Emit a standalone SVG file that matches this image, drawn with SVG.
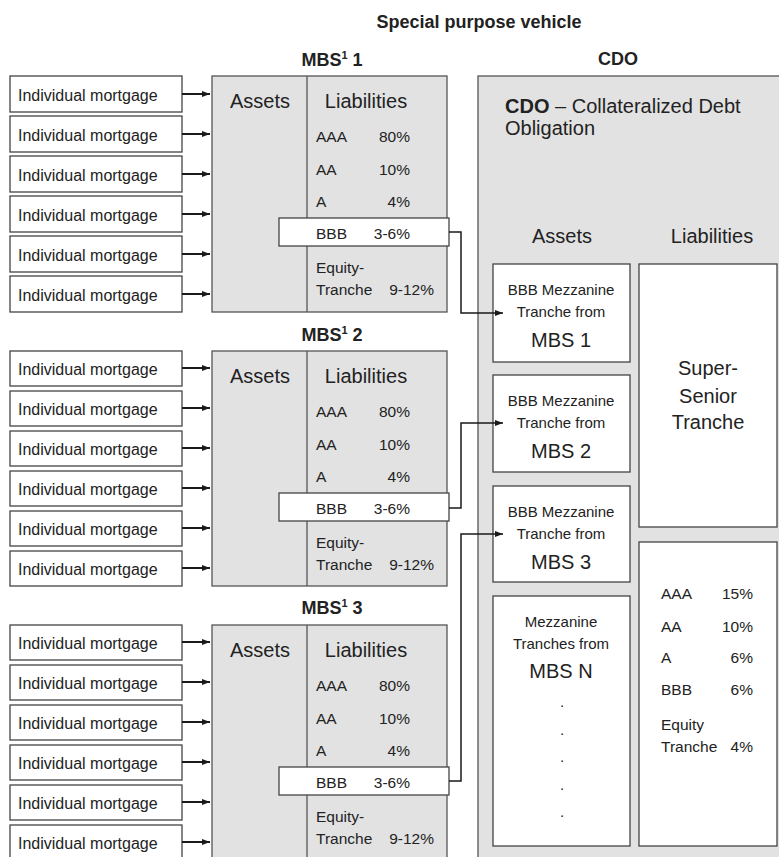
<svg xmlns="http://www.w3.org/2000/svg" width="779" height="857" viewBox="0 0 779 857">
<defs>
<marker id="ah" markerUnits="userSpaceOnUse" markerWidth="9" markerHeight="7" refX="8" refY="3.5" orient="auto">
<path d="M0,0.5 L8,3.5 L0,6.5 z" fill="#1a1a1a"/>
</marker>
<style>
text{font-family:"Liberation Sans",Arial,sans-serif;fill:#222}
.t{font-weight:bold;font-size:18px;text-anchor:middle}
.mb{fill:#fff;stroke:#444;stroke-width:1.3}
.mt{font-size:16px}
.box{fill:#e2e2e3;stroke:#555;stroke-width:1.3}
.wb{fill:#fff;stroke:#444;stroke-width:1.3}
.h{font-size:20px}
.r{font-size:15.5px}
.e{text-anchor:end}
.m{text-anchor:middle}
.s{font-size:15px;text-anchor:middle}
.a{stroke:#1a1a1a;stroke-width:2;fill:none;marker-end:url(#ah)}
.c{stroke:#1a1a1a;stroke-width:1.5;fill:none;marker-end:url(#ah)}
</style>
</defs>

<text class="t" x="479" y="28">Special purpose vehicle</text>

<g id="mbs1">
<text class="t" x="332" y="66">MBS<tspan font-size="11" dy="-7">1</tspan><tspan dy="7"> 1</tspan></text>
<rect class="box" x="212" y="76" width="235" height="236"/>
<line x1="307" y1="76" x2="307" y2="312" stroke="#555" stroke-width="1.3"/>
<text class="h" x="260" y="108" text-anchor="middle">Assets</text>
<text class="h" x="366" y="108" text-anchor="middle">Liabilities</text>
<text class="r" x="316" y="142">AAA</text><text class="r e" x="410" y="142">80%</text>
<text class="r" x="316" y="175">AA</text><text class="r e" x="410" y="175">10%</text>
<text class="r" x="316" y="207">A</text><text class="r e" x="410" y="207">4%</text>
<rect class="wb" x="279" y="218" width="170" height="28"/>
<text class="r" x="316" y="239">BBB</text><text class="r e" x="410" y="239">3-6%</text>
<text class="r" x="316" y="273">Equity-</text>
<text class="r" x="316" y="295">Tranche</text><text class="r e" x="434" y="295">9-12%</text>
</g>

<g id="mbs2">
<text class="t" x="332" y="341">MBS<tspan font-size="11" dy="-7">1</tspan><tspan dy="7"> 2</tspan></text>
<rect class="box" x="212" y="351" width="235" height="235"/>
<line x1="307" y1="351" x2="307" y2="586" stroke="#555" stroke-width="1.3"/>
<text class="h" x="260" y="383" text-anchor="middle">Assets</text>
<text class="h" x="366" y="383" text-anchor="middle">Liabilities</text>
<text class="r" x="316" y="417">AAA</text><text class="r e" x="410" y="417">80%</text>
<text class="r" x="316" y="450">AA</text><text class="r e" x="410" y="450">10%</text>
<text class="r" x="316" y="482">A</text><text class="r e" x="410" y="482">4%</text>
<rect class="wb" x="279" y="493" width="170" height="28"/>
<text class="r" x="316" y="514">BBB</text><text class="r e" x="410" y="514">3-6%</text>
<text class="r" x="316" y="548">Equity-</text>
<text class="r" x="316" y="570">Tranche</text><text class="r e" x="434" y="570">9-12%</text>
</g>

<g id="mbs3">
<text class="t" x="332" y="614">MBS<tspan font-size="11" dy="-7">1</tspan><tspan dy="7"> 3</tspan></text>
<rect class="box" x="212" y="625" width="235" height="240"/>
<line x1="307" y1="625" x2="307" y2="865" stroke="#555" stroke-width="1.3"/>
<text class="h" x="260" y="657" text-anchor="middle">Assets</text>
<text class="h" x="366" y="657" text-anchor="middle">Liabilities</text>
<text class="r" x="316" y="691">AAA</text><text class="r e" x="410" y="691">80%</text>
<text class="r" x="316" y="724">AA</text><text class="r e" x="410" y="724">10%</text>
<text class="r" x="316" y="756">A</text><text class="r e" x="410" y="756">4%</text>
<rect class="wb" x="279" y="767" width="170" height="28"/>
<text class="r" x="316" y="788">BBB</text><text class="r e" x="410" y="788">3-6%</text>
<text class="r" x="316" y="822">Equity-</text>
<text class="r" x="316" y="844">Tranche</text><text class="r e" x="434" y="844">9-12%</text>
</g>

<g id="mortgages1">
<g id="m1-1"><rect class="mb" x="10" y="76" width="172" height="36"/><text class="mt" x="18" y="101">Individual mortgage</text></g>
<g id="m1-2"><rect class="mb" x="10" y="116" width="172" height="36"/><text class="mt" x="18" y="141">Individual mortgage</text></g>
<g id="m1-3"><rect class="mb" x="10" y="156" width="172" height="36"/><text class="mt" x="18" y="181">Individual mortgage</text></g>
<g id="m1-4"><rect class="mb" x="10" y="196" width="172" height="36"/><text class="mt" x="18" y="221">Individual mortgage</text></g>
<g id="m1-5"><rect class="mb" x="10" y="236" width="172" height="36"/><text class="mt" x="18" y="261">Individual mortgage</text></g>
<g id="m1-6"><rect class="mb" x="10" y="276" width="172" height="36"/><text class="mt" x="18" y="301">Individual mortgage</text></g>
</g>
<g id="mortgages2">
<g id="m2-1"><rect class="mb" x="10" y="351" width="172" height="35"/><text class="mt" x="18" y="375">Individual mortgage</text></g>
<g id="m2-2"><rect class="mb" x="10" y="391" width="172" height="35"/><text class="mt" x="18" y="415">Individual mortgage</text></g>
<g id="m2-3"><rect class="mb" x="10" y="431" width="172" height="35"/><text class="mt" x="18" y="455">Individual mortgage</text></g>
<g id="m2-4"><rect class="mb" x="10" y="471" width="172" height="35"/><text class="mt" x="18" y="495">Individual mortgage</text></g>
<g id="m2-5"><rect class="mb" x="10" y="511" width="172" height="35"/><text class="mt" x="18" y="535">Individual mortgage</text></g>
<g id="m2-6"><rect class="mb" x="10" y="551" width="172" height="35"/><text class="mt" x="18" y="575">Individual mortgage</text></g>
</g>
<g id="mortgages3">
<g id="m3-1"><rect class="mb" x="10" y="625" width="172" height="35"/><text class="mt" x="18" y="649">Individual mortgage</text></g>
<g id="m3-2"><rect class="mb" x="10" y="665" width="172" height="35"/><text class="mt" x="18" y="689">Individual mortgage</text></g>
<g id="m3-3"><rect class="mb" x="10" y="705" width="172" height="35"/><text class="mt" x="18" y="729">Individual mortgage</text></g>
<g id="m3-4"><rect class="mb" x="10" y="745" width="172" height="35"/><text class="mt" x="18" y="769">Individual mortgage</text></g>
<g id="m3-5"><rect class="mb" x="10" y="785" width="172" height="35"/><text class="mt" x="18" y="809">Individual mortgage</text></g>
<g id="m3-6"><rect class="mb" x="10" y="825" width="172" height="36"/><text class="mt" x="18" y="849">Individual mortgage</text></g>
</g>

<g id="cdo">
<text class="t" x="618" y="65">CDO</text>
<rect class="box" x="478" y="76" width="320" height="800"/>
<text class="h" x="505" y="113"><tspan font-weight="bold">CDO</tspan> – Collateralized Debt</text>
<text class="h" x="505" y="135">Obligation</text>
<text class="h m" x="562" y="243">Assets</text>
<text class="h m" x="712" y="243">Liabilities</text>
</g>
<g id="cdo-a1"><rect class="wb" x="493" y="264" width="137" height="98"/>
<text class="s" x="561" y="295">BBB Mezzanine</text><text class="s" x="561" y="317">Tranche from</text><text class="h m" x="561" y="347">MBS 1</text></g>
<g id="cdo-a2"><rect class="wb" x="493" y="375" width="137" height="97"/>
<text class="s" x="561" y="406">BBB Mezzanine</text><text class="s" x="561" y="428">Tranche from</text><text class="h m" x="561" y="458">MBS 2</text></g>
<g id="cdo-a3"><rect class="wb" x="493" y="486" width="137" height="96"/>
<text class="s" x="561" y="517">BBB Mezzanine</text><text class="s" x="561" y="539">Tranche from</text><text class="h m" x="561" y="569">MBS 3</text></g>
<g id="cdo-a4"><rect class="wb" x="493" y="596" width="137" height="250"/>
<text class="s" x="561" y="627">Mezzanine</text><text class="s" x="561" y="649">Tranches from</text><text class="h m" x="561" y="678">MBS N</text>
<text class="s" x="562" y="707">.</text><text class="s" x="562" y="735">.</text><text class="s" x="562" y="762">.</text><text class="s" x="562" y="790">.</text><text class="s" x="562" y="817">.</text></g>
<g id="cdo-l1"><rect class="wb" x="639" y="264" width="138" height="263"/>
<text class="h m" x="708" y="375">Super-</text><text class="h m" x="708" y="403">Senior</text><text class="h m" x="708" y="429">Tranche</text></g>
<g id="cdo-l2"><rect class="wb" x="639" y="542" width="138" height="304"/>
<text class="r" x="661" y="599">AAA</text><text class="r e" x="753" y="599">15%</text>
<text class="r" x="661" y="632">AA</text><text class="r e" x="753" y="632">10%</text>
<text class="r" x="661" y="663">A</text><text class="r e" x="753" y="663">6%</text>
<text class="r" x="661" y="695">BBB</text><text class="r e" x="753" y="695">6%</text>
<text class="r" x="661" y="730">Equity</text>
<text class="r" x="661" y="752">Tranche</text><text class="r e" x="753" y="752">4%</text></g>

<g id="connectors">
<line class="a" x1="182" y1="94" x2="210" y2="94"/>
<line class="a" x1="182" y1="134" x2="210" y2="134"/>
<line class="a" x1="182" y1="174" x2="210" y2="174"/>
<line class="a" x1="182" y1="214" x2="210" y2="214"/>
<line class="a" x1="182" y1="254" x2="210" y2="254"/>
<line class="a" x1="182" y1="294" x2="210" y2="294"/>
<line class="a" x1="182" y1="368" x2="210" y2="368"/>
<line class="a" x1="182" y1="408" x2="210" y2="408"/>
<line class="a" x1="182" y1="448" x2="210" y2="448"/>
<line class="a" x1="182" y1="488" x2="210" y2="488"/>
<line class="a" x1="182" y1="528" x2="210" y2="528"/>
<line class="a" x1="182" y1="568" x2="210" y2="568"/>
<line class="a" x1="182" y1="642" x2="210" y2="642"/>
<line class="a" x1="182" y1="682" x2="210" y2="682"/>
<line class="a" x1="182" y1="722" x2="210" y2="722"/>
<line class="a" x1="182" y1="762" x2="210" y2="762"/>
<line class="a" x1="182" y1="802" x2="210" y2="802"/>
<line class="a" x1="182" y1="842" x2="210" y2="842"/>
<polyline class="c" points="449,232 461,232 461,313 503,313"/>
<polyline class="c" points="449,508 461,508 461,423 503,423"/>
<polyline class="c" points="449,781 461,781 461,534 503,534"/>
</g>
</svg>
